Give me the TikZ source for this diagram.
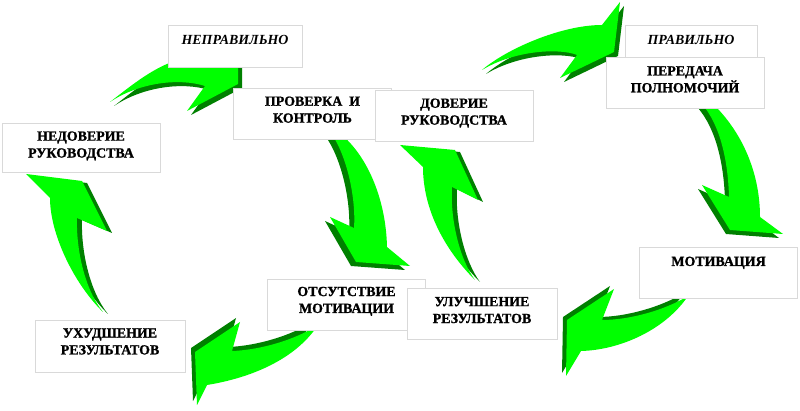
\documentclass[tikz,border=0pt]{standalone}
\usepackage{fontspec}
\setmainfont[BoldFeatures={FakeBold=1.2}]{Liberation Serif}
\usepackage{tikz}
\usetikzlibrary{positioning}

\definecolor{arrowgreen}{RGB}{0,255,0}
\definecolor{arrowdark}{RGB}{0,128,0}

\tikzset{
    arrowface/.style={fill=arrowgreen},
    arrowside/.style={fill=arrowdark},
    box/.style={draw=black!15, fill=white, inner sep=0pt, minimum width=3.95cm, minimum height=1.27cm},
    boxtext/.style={font=\bfseries\fontsize{9.9}{12}\selectfont, align=center, inner sep=0pt},
    titletext/.style={font=\bfseries\itshape\fontsize{9.9}{12}\selectfont, align=center, inner sep=0pt}
}

% dark side first (shifted), then the green face
\newcommand{\gArrow}[2]{\path[arrowside, shift={#1}] #2; \path[arrowface] #2;}

\begin{document}
\begin{tikzpicture}[x=0.025cm, y=-0.025cm]

    \useasboundingbox (0,0) rectangle (800,411);

    % left cycle
    \gArrow{(4,4)}{(110,102) .. controls (128,88) and (150,70) .. (172,62) -- (238,62) -- (238,84) -- (187,111) -- (205,86) .. controls (180,78) and (140,82) .. (110,102) -- cycle}
    \gArrow{(-5,4)}{(333,136) -- (343,136) .. controls (368,158) and (386,200) .. (387,247) -- (410,266) -- (356,262) -- (330,217) -- (354,228) .. controls (356,200) and (348,160) .. (333,136) -- cycle}
    \gArrow{(-4,-4)}{(318,325) .. controls (295,340) and (260,350) .. (232,351) -- (240,322) -- (195,352) -- (197,405) -- (207,385) .. controls (250,378) and (295,360) .. (318,325) -- cycle}
    \gArrow{(5,2)}{(103,312) .. controls (75,285) and (50,235) .. (50,198) -- (26,174) -- (82,181) -- (107,231) -- (77,218) .. controls (76,250) and (85,290) .. (103,312) -- cycle}

    % right cycle
    \gArrow{(4,4)}{(482,70) .. controls (505,50) and (560,25) .. (602,25) -- (620,2) -- (614,52) -- (560,78) -- (577,55) .. controls (560,48) and (515,50) .. (482,70) -- cycle}
    \gArrow{(-4,4)}{(702,104) -- (713,104) .. controls (740,130) and (760,170) .. (760,217) -- (783,234) -- (730,230) -- (702,185) -- (729,197) .. controls (728,160) and (720,125) .. (702,104) -- cycle}
    \gArrow{(-4,-3)}{(688,296) .. controls (665,310) and (630,320) .. (602,320) -- (614,289) -- (567,320) -- (566,376) -- (581,351) .. controls (620,350) and (665,330) .. (688,296) -- cycle}
    \gArrow{(5,2)}{(475,280) .. controls (445,250) and (423,210) .. (423,167) -- (400,145) -- (455,150) -- (478,200) -- (452,187) .. controls (450,220) and (460,260) .. (475,280) -- cycle}

    % boxes
    \node[box, minimum width=3.35cm, minimum height=1.05cm] (neprav) at (235,46) {};
    \node[titletext, below=7pt of neprav.north] (nepravT) {НЕПРАВИЛЬНО};

    \node[box, minimum width=3.3cm, minimum height=0.8cm] (prav) at (691,41) {};
    \node[titletext, below=7pt of prav.north] (pravT) {ПРАВИЛЬНО};

    \node[box] (peredacha) at (685,82.5) {};
    \node[boxtext, below=6.5pt of peredacha.north] (peredachaT) {ПЕРЕДАЧА\\ПОЛНОМОЧИЙ};

    \node[box] (proverka) at (312.5,113.5) {};
    \node[boxtext, below=6pt of proverka.north] (proverkaT) {ПРОВЕРКА~~И\\КОНТРОЛЬ};

    \node[box] (doverie) at (454,115.5) {};
    \node[boxtext, below=6pt of doverie.north] (doverieT) {ДОВЕРИЕ\\РУКОВОДСТВА};

    \node[box, minimum height=1.225cm] (nedoverie) at (81,147.5) {};
    \node[boxtext, below=6pt of nedoverie.north] (nedoverieT) {НЕДОВЕРИЕ\\РУКОВОДСТВА};

    \node[box] (motivacia) at (718.5,273) {};
    \node[boxtext, below=6.5pt of motivacia.north] (motivaciaT) {МОТИВАЦИЯ};

    \node[box] (otsutstvie) at (346.5,304.5) {};
    \node[boxtext, below=5.5pt of otsutstvie.north] (otsutstvieT) {ОТСУТСТВИЕ\\МОТИВАЦИИ};

    \node[box, minimum width=3.75cm] (uluchshenie) at (482,314) {};
    \node[boxtext, below=6pt of uluchshenie.north] (uluchshenieT) {УЛУЧШЕНИЕ\\РЕЗУЛЬТАТОВ};

    \node[box, minimum width=3.75cm, minimum height=1.3cm] (uhudshenie) at (110,346) {};
    \node[boxtext, below=6pt of uhudshenie.north] (uhudshenieT) {УХУДШЕНИЕ\\РЕЗУЛЬТАТОВ};

\end{tikzpicture}
\end{document}
